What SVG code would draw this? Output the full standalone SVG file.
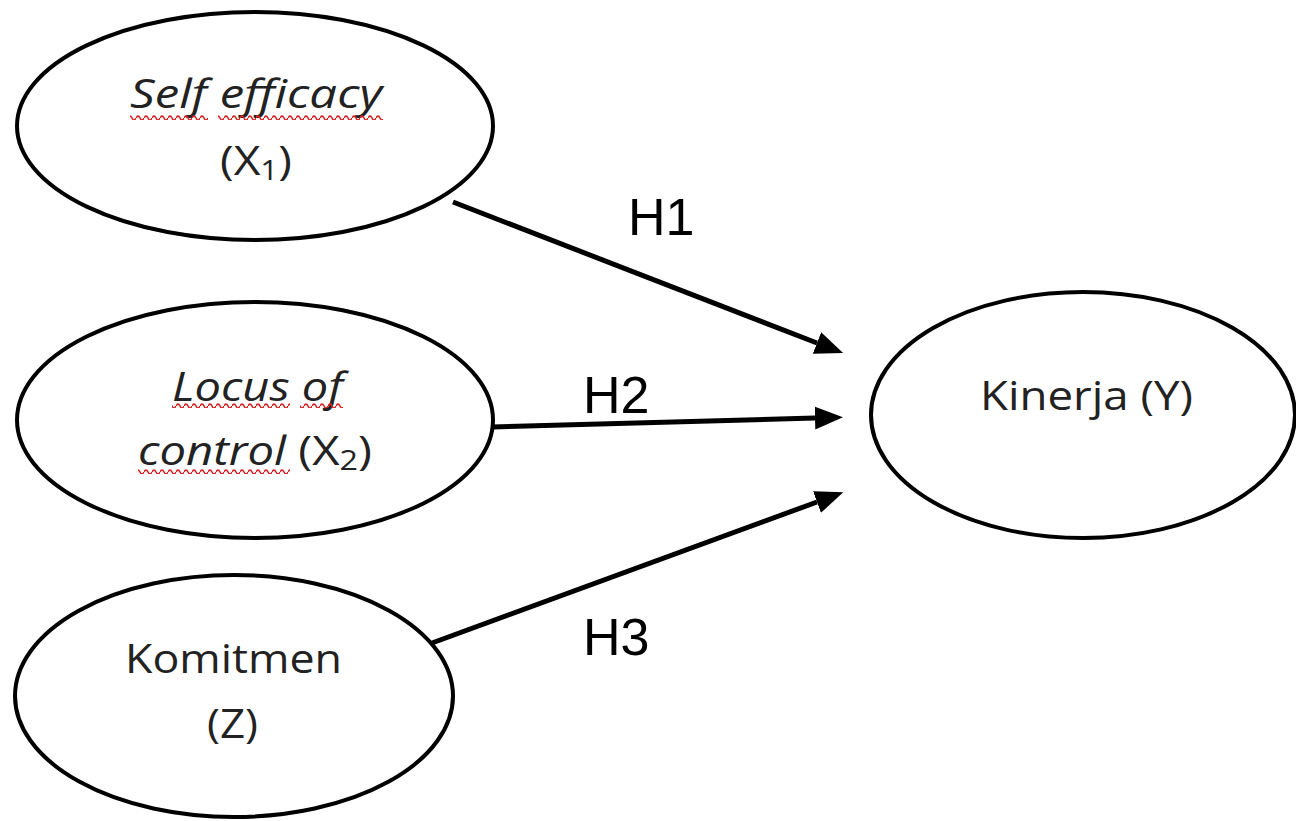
<svg xmlns="http://www.w3.org/2000/svg" width="1296" height="821" viewBox="0 0 1296 821">
<style>
.node ellipse{fill:#fff;stroke:#000;stroke-width:4}
.lbl{font-family:"Open Sans","Liberation Sans",sans-serif;font-size:41px;fill:#222}
.it{font-style:italic}
.h{font-family:"Liberation Sans",Arial,sans-serif;font-size:52px;fill:#000}
.edge{stroke:#000;stroke-width:5;fill:none}
</style>
<defs>
<marker id="arr" markerUnits="userSpaceOnUse" markerWidth="30" markerHeight="24" refX="0" refY="11.5" orient="auto">
<path d="M0,0 L28,11.5 L0,23 z" fill="#000"/>
</marker>
<pattern id="wave" patternUnits="userSpaceOnUse" width="8" height="6">
<path d="M0,4 q2,-4 4,0 t4,0" stroke="#e02020" stroke-width="1.6" fill="none"/>
</pattern>
</defs>
<g id="connectors">
<line class="edge" x1="453" y1="202" x2="817" y2="343" marker-end="url(#arr)"/>
<line class="edge" x1="492" y1="427" x2="815" y2="418" marker-end="url(#arr)"/>
<line class="edge" x1="432" y1="643" x2="817" y2="502" marker-end="url(#arr)"/>
<text class="h" x="628" y="235">H1</text>
<text class="h" x="583" y="413">H2</text>
<text class="h" x="583" y="655">H3</text>
</g>
<g id="node-x1" class="node">
<ellipse cx="255" cy="126" rx="238" ry="114"/>
<text class="lbl it" x="130" y="108" textLength="252" lengthAdjust="spacingAndGlyphs">Self efficacy</text>
<rect x="130" y="114" width="78" height="6" fill="url(#wave)"/>
<rect x="218" y="114" width="165" height="6" fill="url(#wave)"/>
<text class="lbl" x="220" y="175" textLength="72" lengthAdjust="spacingAndGlyphs">(X<tspan font-size="28" dy="5">1</tspan><tspan dy="-5">)</tspan></text>
</g>
<g id="node-x2" class="node">
<ellipse cx="255" cy="420" rx="238" ry="118"/>
<text class="lbl it" x="172" y="401" textLength="171" lengthAdjust="spacingAndGlyphs">Locus of</text>
<rect x="172" y="402" width="118" height="6" fill="url(#wave)"/>
<rect x="300" y="402" width="43" height="6" fill="url(#wave)"/>
<text class="lbl" x="138" y="465" textLength="234" lengthAdjust="spacingAndGlyphs"><tspan class="it">control</tspan> (X<tspan font-size="28" dy="5">2</tspan><tspan dy="-5">)</tspan></text>
<rect x="138" y="468" width="152" height="6" fill="url(#wave)"/>
</g>
<g id="node-z" class="node">
<ellipse cx="234" cy="696" rx="219" ry="121"/>
<text class="lbl" x="125" y="673" textLength="217" lengthAdjust="spacingAndGlyphs">Komitmen</text>
<text class="lbl" x="207" y="738" textLength="51" lengthAdjust="spacingAndGlyphs">(Z)</text>
</g>
<g id="node-y" class="node">
<ellipse cx="1083" cy="415" rx="212" ry="123"/>
<text class="lbl" x="980" y="410" textLength="213" lengthAdjust="spacingAndGlyphs">Kinerja (Y)</text>
</g>
</svg>
